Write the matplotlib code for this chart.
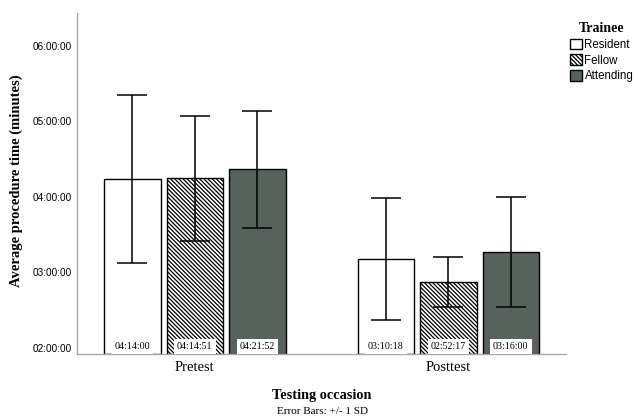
import numpy as np
import matplotlib
matplotlib.use("Agg")
import matplotlib.pyplot as plt
from matplotlib.patches import Patch

# -----------------------------
# Data (minutes)
# -----------------------------
occasions = ["Pretest", "Posttest"]
trainees = ["Resident", "Fellow", "Attending"]

mean_labels = {
    "Resident": ["04:14:00", "03:10:18"],
    "Fellow": ["04:14:51", "02:52:17"],
    "Attending": ["04:21:52", "03:16:00"],
}
sd_minutes = {
    "Resident": [66.8, 48.6],
    "Fellow": [49.8, 19.9],
    "Attending": [46.6, 43.8],
}

y_ticks_min = [120, 180, 240, 300, 360]


def to_minutes(s):
    h, m, sec = (int(v) for v in s.split(":"))
    return h * 60 + m + sec / 60.0


def fmt_hms(mins):
    total = int(round(mins * 60))
    return f"{total // 3600:02d}:{(total % 3600) // 60:02d}:{total % 60:02d}"


# Styles
SERIF = "Liberation Serif"
SANS = "Liberation Sans"
styles = {
    "Resident": dict(facecolor="white", hatch=None),
    "Fellow": dict(facecolor="white", hatch="\\" * 8),
    "Attending": dict(facecolor="#58625d", hatch=None),
}
plt.rcParams["hatch.linewidth"] = 0.9

YMIN, YMAX = 114.75, 386.3
step = 0.2465
width = 0.2237

fig = plt.figure(figsize=(6.34, 4.2), dpi=100)
ax = fig.add_axes([77 / 634, 1 - 354.3 / 420, (566 - 77) / 634, (354.3 - 13) / 420])

x = np.arange(len(occasions))
for k, tr in enumerate(trainees):
    means = np.array([to_minutes(s) for s in mean_labels[tr]])
    xs = x + (k - 1) * step
    st = styles[tr]
    ax.bar(xs, means - YMIN, bottom=YMIN, width=width,
           facecolor=st["facecolor"], hatch=st["hatch"],
           edgecolor="black", linewidth=1.0, zorder=2)
    ax.errorbar(xs, means, yerr=sd_minutes[tr], fmt="none", ecolor="black",
                elinewidth=1.1, capsize=10.5, capthick=1.1, zorder=3)
    for xi, lab in zip(xs, mean_labels[tr]):
        ax.annotate(lab, xy=(xi, YMIN), xytext=(0, 5.8), textcoords="offset points",
                    ha="center", va="center", fontsize=7.2, family=SERIF, zorder=4,
                    bbox=dict(boxstyle="square,pad=0.3", facecolor="white", edgecolor="none"))

ax.set_xlim(-0.465, 1.464)
ax.set_ylim(YMIN, YMAX)
ax.set_yticks(y_ticks_min)
ax.set_yticklabels([fmt_hms(v) for v in y_ticks_min], family=SANS, fontsize=7.2)
ax.set_xticks(x)
ax.set_xticklabels(occasions, family=SERIF, fontsize=10.5)
ax.tick_params(axis="y", length=0, pad=4)
ax.tick_params(axis="x", length=0, pad=5)

for side in ["top", "right"]:
    ax.spines[side].set_visible(False)
for side in ["left", "bottom"]:
    ax.spines[side].set_color("#a8a8a8")
    ax.spines[side].set_linewidth(1.0)

fig.text(0.025, 0.569, "Average procedure time (minutes)", rotation=90,
         ha="center", va="center", family=SERIF, fontweight="bold", fontsize=10.5)
fig.text(322 / 634, 1 - 395 / 420, "Testing occasion", ha="center", va="center",
         family=SERIF, fontweight="bold", fontsize=10.3)
fig.text(323 / 634, 1 - 412 / 420, "Error Bars: +/- 1 SD", ha="center", va="center",
         family=SERIF, fontsize=8)

handles = [Patch(facecolor=styles[tr]["facecolor"], hatch=styles[tr]["hatch"],
                 edgecolor="black", linewidth=1.0, label=tr) for tr in trainees]
leg = fig.legend(handles=handles, title="Trainee", loc="upper left",
                 bbox_to_anchor=(562 / 634, 1 - 14 / 420), frameon=False,
                 prop=dict(family=SANS, size=8.3),
                 title_fontproperties=dict(family=SERIF, weight="bold", size=10),
                 handlelength=1.05, handleheight=1.05, handletextpad=0.2,
                 labelspacing=0.3, borderpad=0.2)

fig.savefig("out.png", dpi=100)
